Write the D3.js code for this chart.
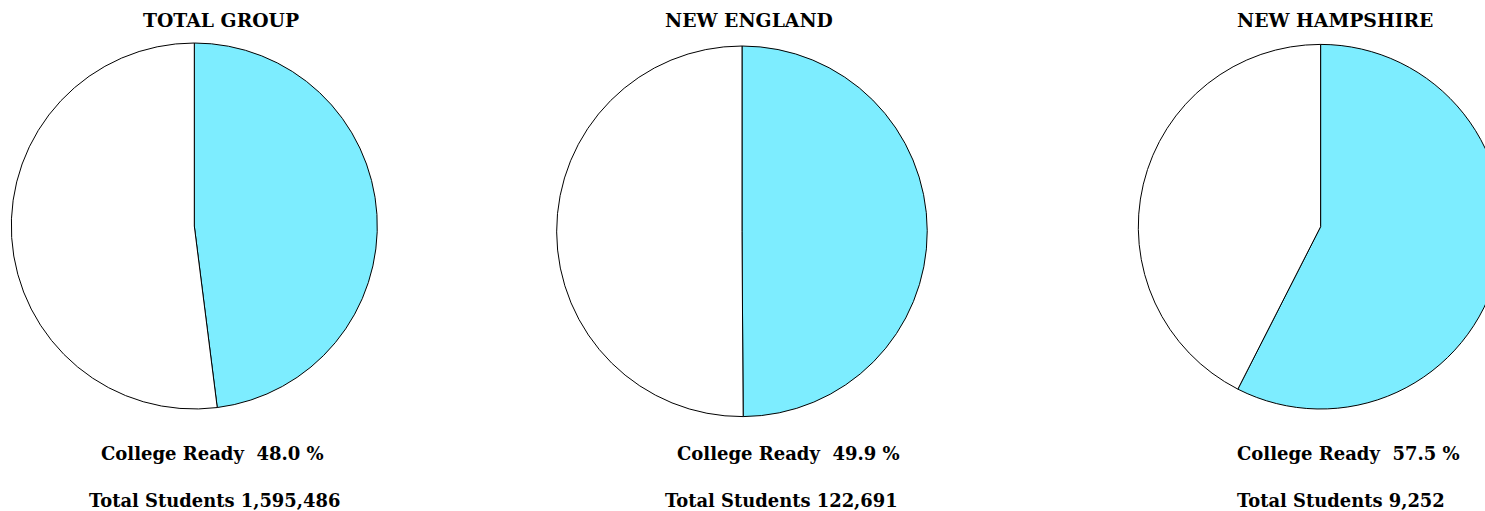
<!DOCTYPE html>
<html>
<head>
<meta charset="utf-8">
<script src="https://cdn.jsdelivr.net/npm/d3@7"></script>
<style>
html,body{margin:0;padding:0;background:#fff;overflow:hidden;}
text{font-family:"DejaVu Serif",serif;font-weight:bold;fill:#000;}
</style>
</head>
<body>
<svg id="chart" width="1485" height="511"></svg>
<script>
const groups = ["TOTAL GROUP", "NEW ENGLAND", "NEW HAMPSHIRE"];
const collegeReady = [48.0, 49.9, 57.5];
const totalStudents = [1595486, 122691, 9252];

// layout (pixel positions of each panel)
const centers = [[194.3, 226], [742, 231.3], [1320.6, 226.7]];
const radii = [183, 185.3, 182.3];
const titleX = [143, 665, 1237];
const labelX = [101, 677, 1237];
const totalX = [89, 665, 1237];

const svg = d3.select("#chart");
const pie = d3.pie().sort(null).value(d => d);
const fmt = d3.format(",");
const colors = ["#7DEDFF", "#ffffff"];

groups.forEach((g, i) => {
  const arc = d3.arc().innerRadius(0).outerRadius(radii[i]);
  const gp = svg.append("g").attr("transform", `translate(${centers[i][0]},${centers[i][1]})`);
  gp.selectAll("path")
    .data(pie([collegeReady[i], 100 - collegeReady[i]]))
    .join("path")
    .attr("d", arc)
    .attr("fill", (d, j) => colors[j])
    .attr("stroke", "#000")
    .attr("stroke-width", 1);

  svg.append("text").attr("x", titleX[i]).attr("y", 27).attr("font-size", 18.8).text(g);
  svg.append("text").attr("x", labelX[i]).attr("y", 460).attr("font-size", 18)
    .attr("xml:space", "preserve").style("white-space", "pre")
    .text(`College Ready  ${collegeReady[i].toFixed(1)} %`);
  svg.append("text").attr("x", totalX[i]).attr("y", 507).attr("font-size", 17.9)
    .text(`Total Students ${fmt(totalStudents[i])}`);
});
</script>
</body>
</html>
